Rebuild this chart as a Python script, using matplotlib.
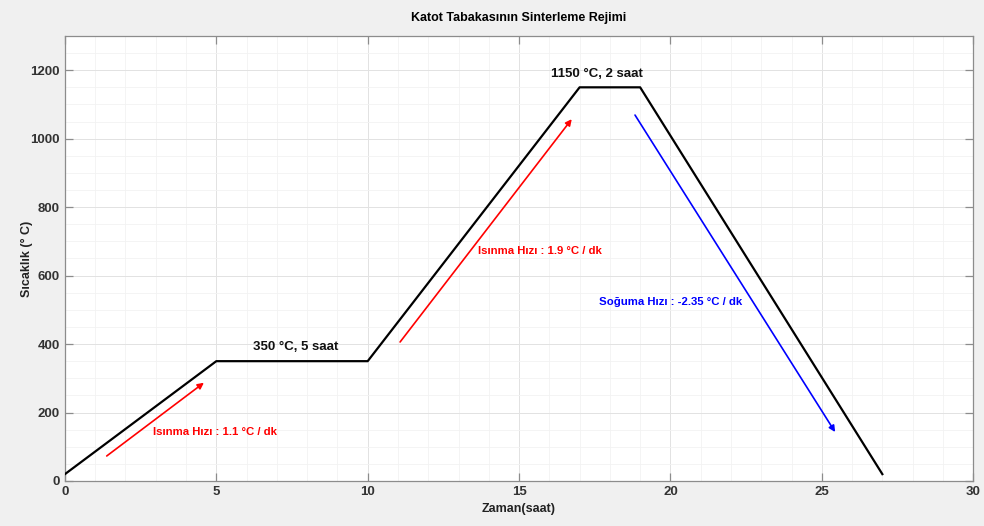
import matplotlib
matplotlib.use("Agg")
import matplotlib.pyplot as plt
from matplotlib.ticker import MultipleLocator

plt.rcParams['font.family'] = ['Liberation Sans', 'DejaVu Sans']

# data
time_h = [0, 5, 10, 17, 19, 27]
temp_c = [20, 350, 350, 1150, 1150, 20]

arrow_tails = [(1.38, 73), (11.07, 406), (18.83, 1069)]
arrow_heads = [(4.59, 287), (16.74, 1057), (25.44, 143)]
arrow_colors = ['#ff0000', '#ff0000', '#0000ff']

rate_labels = ['Isınma Hızı : 1.1 °C / dk', 'Isınma Hızı : 1.9 °C / dk', 'Soğuma Hızı : -2.35 °C / dk']
rate_pos = [(2.9, 143), (13.64, 672), (17.64, 523)]

hold_labels = ['350 °C, 5 saat', '1150 °C, 2 saat']
hold_pos = [(7.63, 392), (17.57, 1190)]

fig = plt.figure(figsize=(9.84, 5.26), dpi=100, facecolor='#f0f0f0')
ax = fig.add_axes([0.066, 0.0856, 0.923, 0.846])
ax.set_facecolor('white')

ax.plot(time_h, temp_c, color='black', lw=1.6, zorder=3)

for (tx, ty), (hx, hy), c in zip(arrow_tails, arrow_heads, arrow_colors):
    ax.annotate('', xy=(hx, hy), xytext=(tx, ty),
                arrowprops=dict(arrowstyle='-|>', color=c, lw=1.2,
                                mutation_scale=9, shrinkA=0, shrinkB=0), zorder=4)

for lab, (x, y), c in zip(rate_labels, rate_pos, arrow_colors):
    ax.text(x, y, lab, color=c, fontsize=8.2, fontweight='bold', ha='left', va='center')

for lab, (x, y) in zip(hold_labels, hold_pos):
    ax.text(x, y, lab, color='#111111', fontsize=9.5, fontweight='bold', ha='center', va='center')

ax.set_xlim(0, 30)
ax.set_ylim(0, 1300)
ax.xaxis.set_major_locator(MultipleLocator(5))
ax.xaxis.set_minor_locator(MultipleLocator(1))
ax.yaxis.set_major_locator(MultipleLocator(200))
ax.yaxis.set_minor_locator(MultipleLocator(50))
ax.grid(which='major', color='#e2e2e2', lw=0.7)
ax.grid(which='minor', color='#f2f2f2', lw=0.6)
ax.set_axisbelow(True)

ax.tick_params(which='major', direction='in', length=6, top=True, right=True,
               labelsize=9.5, color='#8c8c8c', labelcolor='#333333', width=0.9)
ax.tick_params(which='minor', length=0)
for lbl in ax.get_xticklabels() + ax.get_yticklabels():
    lbl.set_fontweight('bold')
for s in ax.spines.values():
    s.set_color('#8c8c8c')
    s.set_linewidth(0.9)

ax.set_title('Katot Tabakasının Sinterleme Rejimi', fontsize=9, fontweight='bold', pad=11)
ax.set_xlabel('Zaman(saat)', fontsize=9, fontweight='bold', labelpad=4, color='#222222')
ax.set_ylabel('Sıcaklık (° C)', fontsize=9, fontweight='bold', color='#222222')
ax.yaxis.set_label_coords(-0.035, 0.5)

fig.savefig('out.png', dpi=100, facecolor=fig.get_facecolor())
